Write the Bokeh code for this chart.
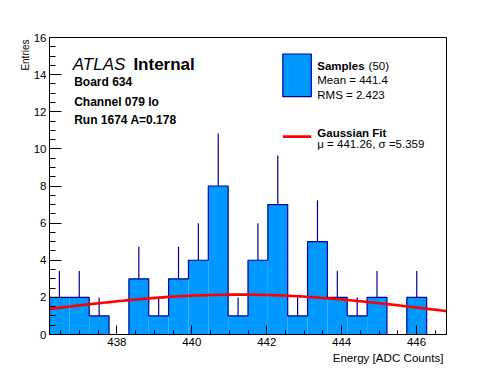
import numpy as np
from bokeh.plotting import figure
from bokeh.layouts import row
from bokeh.models import Range1d, SingleIntervalTicker, Label, BoxAnnotation, Title, Spacer
from bokeh.embed import file_html
from bokeh.resources import INLINE

# ---- data ----
x_min, x_max = 436.2, 446.8
n_bins = 20
counts = [2, 2, 1, 0, 3, 1, 3, 4, 8, 1, 4, 7, 1, 5, 2, 1, 2, 0, 2, 0]
y_max = 16
fit_mu = 441.26
fit_sigma = 5.359
fit_amp = 2.15
n_samples = 50
sample_mean = 441.4
sample_rms = 2.423

FILL = "#0099ff"
NAVY = "#000099"
FONT = "Liberation Sans"

edges = np.linspace(x_min, x_max, n_bins + 1)
centers = 0.5 * (edges[:-1] + edges[1:])
cnt = np.array(counts, dtype=float)

p = figure(width=474, height=366, output_backend="svg", toolbar_location=None,
           x_range=Range1d(x_min, x_max), y_range=Range1d(0, y_max),
           min_border_left=35, min_border_right=42, min_border_top=37, min_border_bottom=32)
p.xgrid.visible = False
p.ygrid.visible = False
p.outline_line_color = "black"
p.outline_line_alpha = 1
p.outline_line_width = 1
p.background_fill_color = "white"
p.border_fill_color = "white"

p.xaxis.ticker = SingleIntervalTicker(interval=2, num_minor_ticks=4)
p.yaxis.ticker = SingleIntervalTicker(interval=2, num_minor_ticks=4)
for ax, maj, mnr in ((p.xaxis, 9, 4), (p.yaxis, 12, 6)):
    ax.major_tick_in = maj
    ax.major_tick_out = 0
    ax.minor_tick_in = mnr
    ax.minor_tick_out = 0
    ax.major_tick_line_color = "black"
    ax.minor_tick_line_color = "black"
    ax.axis_line_color = "black"
    ax.major_label_text_font = FONT
    ax.major_label_text_font_size = "11.5px"
    ax.major_label_text_color = "black"
p.xaxis.major_label_standoff = 3
p.yaxis.major_label_standoff = 3

# histogram fill
p.quad(left=edges[:-1], right=edges[1:], bottom=0, top=cnt,
       fill_color=FILL, line_color=None)

# histogram contour
sx, sy = [edges[0]], [0.0]
for i, c in enumerate(cnt):
    sx += [edges[i], edges[i + 1]]
    sy += [c, c]
sx.append(edges[-1]); sy.append(0.0)
p.line(sx, sy, line_color=NAVY, line_width=1.2)

# error bars (upper part visible)
m = cnt > 0
p.segment(x0=centers[m], y0=cnt[m], x1=centers[m], y1=cnt[m] + np.sqrt(cnt[m]),
          line_color=NAVY, line_width=1.2)

# gaussian fit
gx = np.linspace(x_min, x_max, 120)
gy = fit_amp * np.exp(-0.5 * ((gx - fit_mu) / fit_sigma) ** 2)
p.line(gx, gy, line_color="#ff0000", line_width=2.6)


def lab(x, y, text, size, style="normal", **kw):
    p.add_layout(Label(x=x, y=y, text=text, text_font=FONT, text_font_size=size,
                       text_font_style=style, text_color="black",
                       text_baseline=kw.pop("baseline", "alphabetic"), **kw))


lab(436.82, 14.52, "ATLAS", "17px", "italic")
lab(438.44, 14.52, "Internal", "17px", "bold")
lab(436.858, 13.62, "Board 634", "12px", "bold")
lab(436.858, 12.55, "Channel 079 lo", "12px", "bold")
lab(436.858, 11.56, "Run 1674 A=0.178", "12px", "bold")

# legend
p.add_layout(BoxAnnotation(left=442.43, right=443.19, bottom=12.81, top=15.11,
                           fill_color=FILL, fill_alpha=1, line_color=NAVY,
                           line_alpha=1, line_width=1.2))
p.add_layout(BoxAnnotation(left=442.43, right=443.19, bottom=10.59, top=10.73,
                           fill_color="#ff0000", fill_alpha=1, line_color=None))
lab(443.35, 14.44, "Samples", "11.5px", "bold")
lab(444.72, 14.44, f"({n_samples})", "11.5px")
lab(443.35, 13.71, f"Mean = {sample_mean}", "11.5px")
lab(443.35, 12.92, f"RMS = {sample_rms}", "11.5px")
lab(443.35, 10.84, "Gaussian Fit", "11.5px", "bold")
lab(443.35, 10.27, f"\u03bc = {fit_mu}, \u03c3 ={fit_sigma}", "11.5px")

# axis titles (ROOT style: at the end of the axes)
p.add_layout(Title(text="Entries", align="right", text_font=FONT,
                   text_font_size="10px", text_font_style="normal", text_color="black",
                   standoff=0, offset=2), "left")
p.add_layout(Title(text="Energy [ADC Counts]", align="right", text_font=FONT,
                   text_font_size="11.6px", text_font_style="normal", text_color="black",
                   standoff=0, offset=3), "below")

layout = row(Spacer(width=14, height=366), p)
open("out.html", "w").write(file_html(layout, INLINE))
